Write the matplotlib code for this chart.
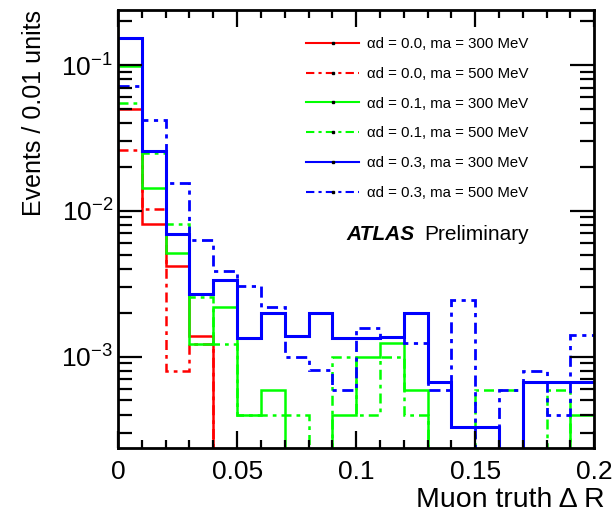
import numpy as np
import matplotlib
matplotlib.use('Agg')
import matplotlib.pyplot as plt
from matplotlib.lines import Line2D

plt.rcParams['font.family'] = ['Liberation Sans', 'DejaVu Sans']

# bin edges in Muon truth dR (20 bins of 0.01)
edges = np.linspace(0, 0.2, 21)

# events / 0.01 units (0 = empty bin)
red_300 = [0.050, 0.0081, 0.0042, 0.00139, 0, 0, 0, 0, 0, 0,
           0, 0, 0, 0, 0, 0, 0, 0, 0, 0]
red_500 = [0.026, 0.0103, 0.00079, 0.00122, 0, 0, 0, 0, 0, 0,
           0, 0, 0, 0, 0, 0, 0, 0, 0, 0]
green_300 = [0.099, 0.0143, 0.0051, 0.00122, 0.0022, 0.0004, 0.00059, 0, 0, 0.0004,
             0.001, 0.00124, 0.00059, 0, 0, 0, 0, 0, 0, 0.0004]
green_500 = [0.055, 0.025, 0.0081, 0.00258, 0.00122, 0.0004, 0.0004, 0.0004, 0, 0.001,
             0.0004, 0.001, 0.0004, 0, 0, 0.00059, 0.00059, 0, 0.00059, 0]
blue_300 = [0.153, 0.0258, 0.0069, 0.00268, 0.00335, 0.00134, 0.00199, 0.00138, 0.00199, 0.00134,
            0.00134, 0.00137, 0.00199, 0.00067, 0.00033, 0.00033, 0, 0.00067, 0.00067, 0.00067]
blue_500 = [0.072, 0.042, 0.0156, 0.0063, 0.00386, 0.00306, 0.0022, 0.001, 0.00081, 0.00059,
            0.00157, 0.00136, 0.00124, 0.00059, 0.00245, 0, 0.00059, 0.0008, 0.0004, 0.00141]

labels = ['\u03b1d = 0.0, ma = 300 MeV', '\u03b1d = 0.0, ma = 500 MeV',
          '\u03b1d = 0.1, ma = 300 MeV', '\u03b1d = 0.1, ma = 500 MeV',
          '\u03b1d = 0.3, ma = 300 MeV', '\u03b1d = 0.3, ma = 500 MeV']

dash = (0, (4, 2, 1.5, 2))
series = [(red_300, '#ff0000', '-', 1.8), (red_500, '#ff0000', dash, 1.8),
          (green_300, '#00ff00', '-', 1.8), (green_500, '#00ff00', dash, 1.8),
          (blue_300, '#0000ff', '-', 2.2), (blue_500, '#0000ff', dash, 2.0)]

fig = plt.figure(figsize=(6.13, 5.23), dpi=100)
ax = fig.add_axes([0.1925, 0.1425, 0.777, 0.8375])

for vals, col, ls, lw in series:
    ax.stairs(vals, edges, baseline=None, color=col, linestyle=ls, linewidth=lw)

ax.set_yscale('log')
ax.set_xlim(0, 0.2)
ax.set_ylim(2.34e-4, 0.237)

ax.set_xticks([0, 0.05, 0.1, 0.15, 0.2])
ax.set_xticklabels(['0', '0.05', '0.1', '0.15', '0.2'])
ax.set_xticks(np.arange(0, 0.2001, 0.01), minor=True)
ax.tick_params(which='both', direction='in', top=True, right=True, width=1.6, labelsize=19)
ax.tick_params(which='major', length=12)
ax.tick_params(axis='y', which='major', length=17)
ax.tick_params(which='minor', length=6)
ax.tick_params(axis='y', which='minor', length=10)
ax.tick_params(axis='x', pad=8)
for sp in ax.spines.values():
    sp.set_linewidth(2)

ax.set_ylabel('Events / 0.01 units', fontsize=18, loc='top', labelpad=11)
fig.text(605 / 613, 1 - 500 / 523, 'Muon truth \u0394 R', fontsize=20.5, ha='right', va='center')

handles = []
for vals, col, ls, lw in series:
    handles.append(Line2D([], [], color=col, linestyle=ls, linewidth=1.5,
                          marker='s', markersize=2, markerfacecolor='k', markeredgecolor='k'))
ax.legend(handles, labels, loc='upper left', bbox_to_anchor=(0.367, 0.97), frameon=False,
          fontsize=10.8, handlelength=3.5, handletextpad=0.55, labelspacing=1.05, numpoints=1)

ax.text(0.48, 0.488, 'ATLAS', transform=ax.transAxes, fontsize=15, fontweight='bold',
        fontstyle='italic', va='center')
ax.text(0.644, 0.488, 'Preliminary', transform=ax.transAxes, fontsize=15, va='center')

fig.savefig('out.png', dpi=100)
